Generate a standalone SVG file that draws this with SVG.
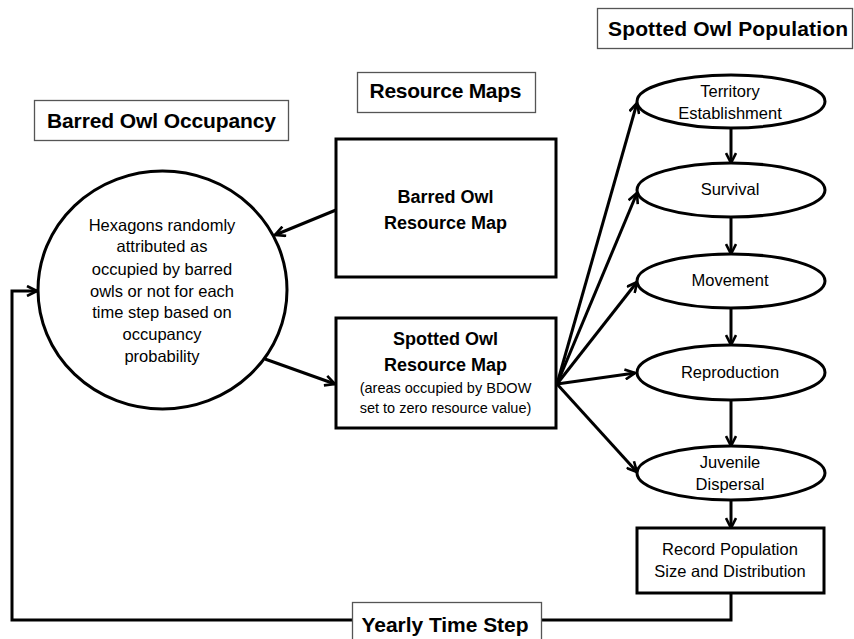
<svg xmlns="http://www.w3.org/2000/svg" width="854" height="639" viewBox="0 0 854 639">
<style>
text{font-family:"Liberation Sans",Arial,sans-serif;fill:#000;text-anchor:middle}
.title{font-size:21px;font-weight:bold}
.bold{font-size:18px;font-weight:bold}
.reg{font-size:16.5px}
.small{font-size:14.5px}
.tbox{fill:#fff;stroke:#555;stroke-width:1.3}
.node{fill:#fff;stroke:#000;stroke-width:3}
.conn{fill:none;stroke:#000;stroke-width:3}
</style>
<defs>
<marker id="arr" viewBox="0 0 12 12" refX="11" refY="6" markerWidth="12" markerHeight="12" markerUnits="userSpaceOnUse" orient="auto">
<path d="M1,1 L11,6 L1,11" fill="none" stroke="#000" stroke-width="2.6"/>
</marker>
</defs>
<rect width="854" height="639" fill="#fff"/>

<g id="connectors">
<path class="conn" d="M336,210 L275,235" marker-end="url(#arr)"/>
<path class="conn" d="M265,359 L335,384" marker-end="url(#arr)"/>
<path class="conn" d="M557,384 L637,103" marker-end="url(#arr)"/>
<path class="conn" d="M557,384 L637,193" marker-end="url(#arr)"/>
<path class="conn" d="M557,384 L637,282" marker-end="url(#arr)"/>
<path class="conn" d="M557,384 L635,373" marker-end="url(#arr)"/>
<path class="conn" d="M557,384 L637,472" marker-end="url(#arr)"/>
<path class="conn" d="M731,128 L731,163" marker-end="url(#arr)"/>
<path class="conn" d="M731,217 L731,254" marker-end="url(#arr)"/>
<path class="conn" d="M731,308 L731,345" marker-end="url(#arr)"/>
<path class="conn" d="M731,400 L731,446" marker-end="url(#arr)"/>
<path class="conn" d="M731,500 L731,528" marker-end="url(#arr)"/>
<path class="conn" d="M731,593 L731,620 L542,620"/>
<path class="conn" d="M352,620 L12,620 L12,291 L37,291" marker-end="url(#arr)"/>
</g>

<g id="title-barred">
<rect class="tbox" x="34.5" y="100.5" width="254" height="40"/>
<text class="title" x="161.5" y="128" textLength="229">Barred Owl Occupancy</text>
</g>
<g id="title-resource">
<rect class="tbox" x="357.5" y="72.5" width="178" height="40"/>
<text class="title" x="445.5" y="98" textLength="152">Resource Maps</text>
</g>
<g id="title-spotted">
<rect class="tbox" x="597.5" y="8.5" width="255" height="40"/>
<text class="title" x="728" y="36" textLength="240">Spotted Owl Population</text>
</g>
<g id="title-yearly">
<rect class="tbox" x="352.5" y="602.5" width="189" height="40"/>
<text class="title" x="445" y="632" textLength="167">Yearly Time Step</text>
</g>

<g id="circle-occupancy">
<ellipse class="node" cx="162.5" cy="290" rx="124.5" ry="119"/>
<text class="reg" x="162" y="230.7">Hexagons randomly</text>
<text class="reg" x="162" y="252.3">attributed as</text>
<text class="reg" x="162" y="275">occupied by barred</text>
<text class="reg" x="162" y="296.7">owls or not for each</text>
<text class="reg" x="162" y="318.3">time step based on</text>
<text class="reg" x="162" y="340">occupancy</text>
<text class="reg" x="162" y="361.7">probability</text>
</g>

<g id="barred-map">
<rect class="node" x="336" y="139" width="220" height="138"/>
<text class="bold" x="445.5" y="202.7">Barred Owl</text>
<text class="bold" x="445.5" y="229">Resource Map</text>
</g>

<g id="spotted-map">
<rect class="node" x="336" y="318" width="220" height="110"/>
<text class="bold" x="445.5" y="345">Spotted Owl</text>
<text class="bold" x="445.5" y="370.7">Resource Map</text>
<text class="small" x="445.5" y="393">(areas occupied by BDOW</text>
<text class="small" x="445.5" y="412.7">set to zero resource value)</text>
</g>

<g id="territory">
<ellipse class="node" cx="731" cy="101.5" rx="94" ry="26.5"/>
<text class="reg" x="730" y="97.3">Territory</text>
<text class="reg" x="730" y="119.3">Establishment</text>
</g>
<g id="survival">
<ellipse class="node" cx="731" cy="190" rx="94" ry="27"/>
<text class="reg" x="730" y="195">Survival</text>
</g>
<g id="movement">
<ellipse class="node" cx="731" cy="281" rx="94" ry="27"/>
<text class="reg" x="730" y="286">Movement</text>
</g>
<g id="reproduction">
<ellipse class="node" cx="731" cy="372.5" rx="94" ry="27.5"/>
<text class="reg" x="730" y="378.3">Reproduction</text>
</g>
<g id="juvenile">
<ellipse class="node" cx="731" cy="473" rx="94" ry="27"/>
<text class="reg" x="730" y="468.3">Juvenile</text>
<text class="reg" x="730" y="490">Dispersal</text>
</g>
<g id="record">
<rect class="node" x="637" y="528" width="187" height="65"/>
<text class="reg" x="730" y="555">Record Population</text>
<text class="reg" x="730" y="576.7">Size and Distribution</text>
</g>
</svg>
